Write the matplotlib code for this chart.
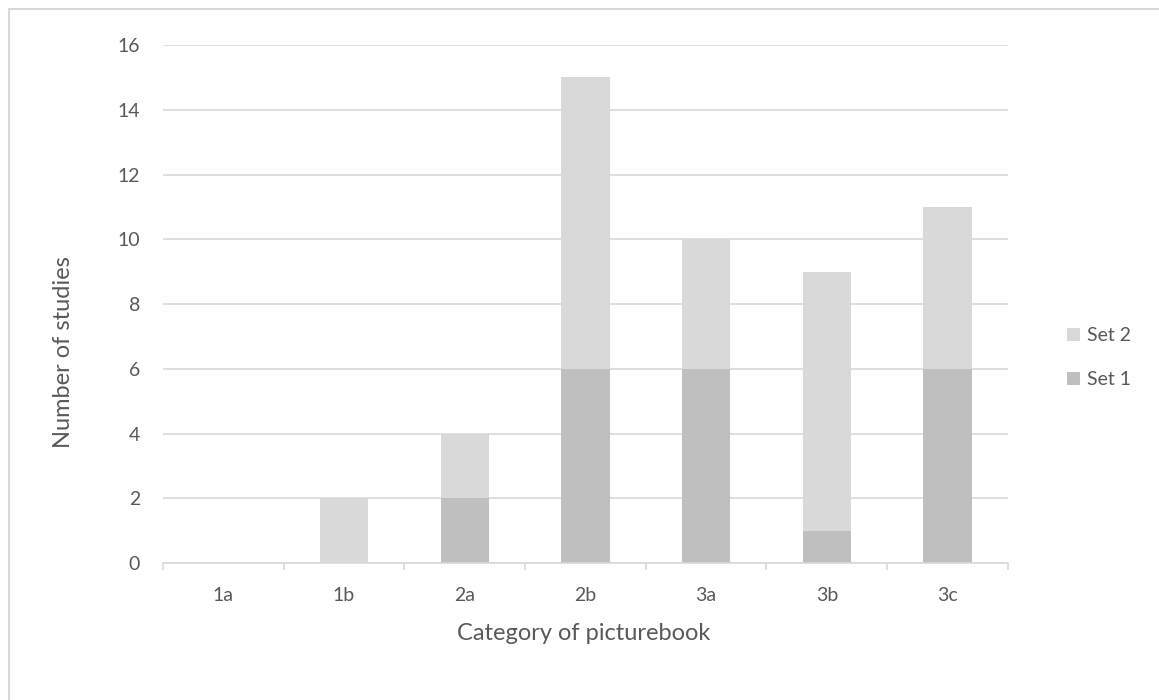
import numpy as np
from matplotlib import pyplot as plt
from matplotlib.patches import Rectangle

categories = ['1a', '1b', '2a', '2b', '3a', '3b', '3c']
set_1 = [0, 0, 2, 6, 6, 1, 6]
set_2 = [0, 2, 2, 9, 4, 8, 5]

plt.rcParams['font.family'] = ['Lato', 'DejaVu Sans']
text_color = '#595959'
grid_color = '#d9d9d9'

fig = plt.figure(figsize=(11.59, 7), dpi=100)
# chart area border (right and bottom edges fall outside the picture)
fig.patches.append(Rectangle((0.008, -0.05), 1.1, 1.037, transform=fig.transFigure,
                             fill=False, edgecolor='#d9d9d9', linewidth=1.5))
ax = fig.add_axes([0.1406, 0.1957, 0.729, 0.74])

x = np.arange(len(categories))
ax.bar(x, set_1, width=0.4, color='#bfbfbf', label='Set 1', zorder=2)
ax.bar(x, set_2, width=0.4, bottom=set_1, color='#d9d9d9', label='Set 2', zorder=2)

ax.set_xlim(-0.5, len(categories) - 0.5)
ax.set_ylim(0, 16)
ax.set_yticks(range(0, 17, 2))
ax.set_xticks(x)
ax.set_xticklabels(categories)
ax.set_xticks(np.arange(len(categories) + 1) - 0.5, minor=True)
ax.grid(axis='y', color=grid_color, linewidth=1.2, zorder=0)
for s in ['top', 'right', 'left']:
    ax.spines[s].set_visible(False)
ax.spines['bottom'].set_color(grid_color)
ax.spines['bottom'].set_linewidth(1.2)
ax.tick_params(axis='y', length=0, pad=16.5, labelsize=14, labelcolor=text_color)
ax.tick_params(axis='x', which='major', length=0, pad=17, labelsize=14, labelcolor=text_color)
ax.tick_params(axis='x', which='minor', length=5, color=grid_color, width=1.2)

# axis titles placed in figure coordinates
fig.text(0.504, 0.0957, 'Category of picturebook', fontsize=17, color=text_color,
         ha='center', va='center')
fig.text(0.0544, 0.497, 'Number of studies', fontsize=17, color=text_color,
         ha='center', va='center', rotation=90)

handles, labels = ax.get_legend_handles_labels()
fig.legend(handles[::-1], labels[::-1], loc='center left', bbox_to_anchor=(0.9138, 0.489),
           bbox_transform=fig.transFigure, borderaxespad=0,
           frameon=False, fontsize=14, labelcolor=text_color, handlelength=0.7,
           handleheight=0.7, handletextpad=0.31, labelspacing=1.39)

plt.savefig('out.png', dpi=100)
